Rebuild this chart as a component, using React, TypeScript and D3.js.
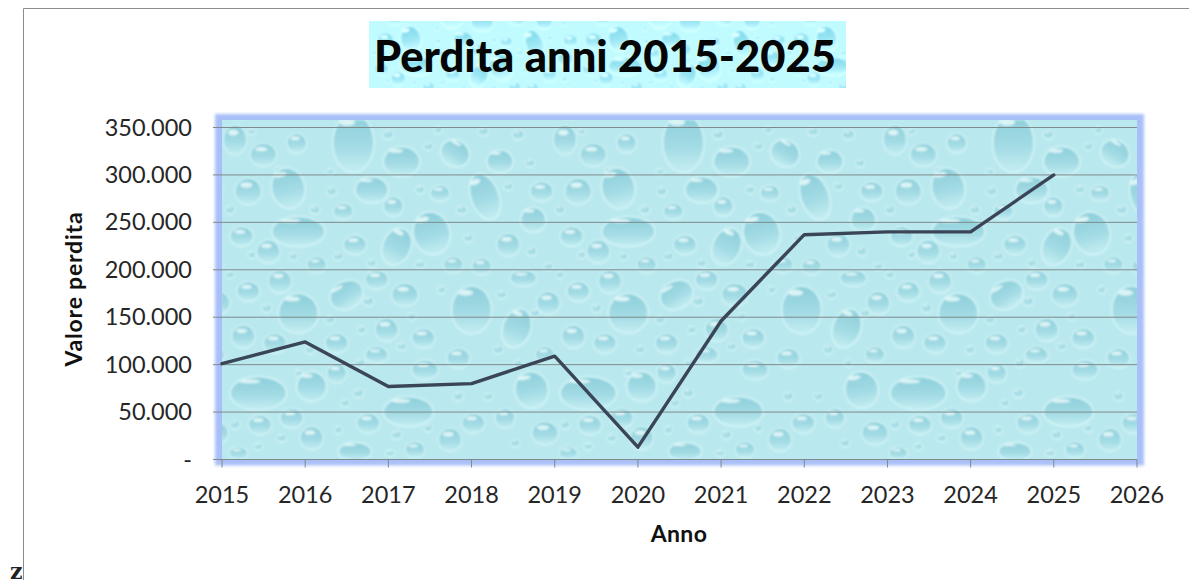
import React from "react";
import * as d3 from "d3";

const years = [2015, 2016, 2017, 2018, 2019, 2020, 2021, 2022, 2023, 2024, 2025];
const losses = [101000, 124000, 77000, 80000, 109000, 13000, 146000, 237000, 240000, 240000, 300000];
const yTicks = [0, 50000, 100000, 150000, 200000, 250000, 300000, 350000];
const xTicks = [2015, 2016, 2017, 2018, 2019, 2020, 2021, 2022, 2023, 2024, 2025, 2026];
const titleText = "Perdita anni 2015-2025";
const xLabel = "Anno";
const yLabel = "Valore perdita";

// Decorative water-drop wallpaper (drawn 3x, scaled down in the tile): [cx, cy, rx, ry, rotation]
const bigDrops = [
  [415, 100, 62, 88, 0], [560, 155, 55, 45, 0], [220, 235, 50, 62, -12], [470, 240, 50, 40, 0],
  [810, 260, 42, 72, -20], [250, 365, 80, 45, 0], [650, 370, 55, 65, -15], [545, 410, 42, 58, 25],
  [250, 610, 60, 60, 0], [395, 555, 52, 42, -30], [770, 600, 60, 72, 0], [905, 655, 42, 60, 20],
  [130, 850, 85, 50, 0], [290, 830, 45, 45, 0], [950, 840, 50, 55, -10], [580, 905, 75, 45, 0],
  [420, 1025, 50, 28, 0], [720, 130, 45, 40, 30], [855, 155, 40, 35, 0], [955, 330, 38, 38, 0],
];
const mediumDrops = [
  [60, 90, 35, 45], [145, 135, 40, 35], [245, 100, 30, 30], [100, 245, 40, 40], [385, 305, 30, 25],
  [535, 290, 30, 30], [675, 250, 30, 25], [980, 245, 35, 30], [80, 380, 35, 30], [160, 425, 35, 35],
  [420, 405, 35, 30], [305, 465, 30, 25], [715, 465, 30, 25], [800, 470, 30, 25], [880, 405, 35, 35],
  [195, 515, 35, 35], [100, 545, 35, 30], [485, 510, 35, 30], [570, 555, 40, 35], [925, 505, 40, 25],
  [1000, 580, 35, 35], [85, 680, 35, 35], [180, 700, 35, 30], [365, 700, 35, 30], [515, 660, 35, 35],
  [625, 685, 35, 30], [485, 735, 35, 25], [730, 745, 35, 30], [630, 780, 40, 30], [990, 735, 30, 25],
  [365, 790, 30, 30], [135, 945, 35, 30], [230, 925, 35, 30], [460, 940, 35, 30], [290, 985, 35, 35],
  [705, 990, 35, 35], [775, 940, 35, 30], [990, 970, 40, 35], [600, 1020, 30, 25], [870, 925, 30, 30],
  [70, 1030, 28, 20],
];
const smallDrops = [
  [110, 65, 12, 10], [195, 180, 15, 14], [345, 185, 12, 10], [520, 75, 16, 14], [640, 110, 14, 12],
  [670, 60, 12, 12], [805, 65, 16, 14], [910, 75, 18, 16], [945, 160, 14, 12], [350, 245, 15, 14],
  [300, 300, 15, 14], [615, 240, 14, 12], [740, 300, 16, 14], [880, 230, 14, 12], [45, 300, 14, 14],
  [110, 435, 12, 12], [235, 440, 13, 12], [370, 440, 15, 12], [470, 460, 14, 12], [615, 465, 15, 12],
  [760, 385, 14, 12], [950, 425, 15, 15], [1000, 470, 14, 12], [45, 495, 13, 12], [155, 595, 15, 14],
  [460, 575, 16, 14], [345, 630, 14, 12], [440, 660, 13, 12], [590, 620, 12, 12], [680, 540, 12, 12],
  [860, 555, 15, 12], [960, 610, 14, 12], [285, 720, 14, 12], [435, 760, 15, 14], [560, 710, 14, 12],
  [850, 720, 15, 13], [910, 760, 12, 12], [250, 790, 12, 10], [730, 860, 15, 14], [430, 850, 16, 14],
  [390, 880, 13, 12], [820, 860, 14, 12], [60, 945, 14, 14], [200, 985, 14, 12], [370, 960, 12, 12],
  [545, 975, 15, 14], [640, 955, 12, 12], [900, 1000, 14, 12], [130, 1010, 13, 11], [525, 1030, 14, 10],
];

const TILE_W = 990;
const TILE_H = 1020;
const PLOT = { left: 222, right: 1137, top: 127.5, bottom: 459.5, backTop: 120 };
const WIDTH = 1189;
const HEIGHT = 580;
const FONT = "Lato, 'Open Sans', sans-serif";
const TEXT = "#262626";

function Tile() {
  return (
    <>
      {[...smallDrops, ...mediumDrops].map(([cx, cy, rx, ry], i) => (
        <g key={i}>
          <ellipse cx={cx} cy={cy} rx={rx} ry={ry} fill="url(#dropFill)" stroke="#d3f5f8" strokeWidth={4} />
          <ellipse cx={cx - rx * 0.15} cy={cy - ry * 0.5} rx={rx * 0.45} ry={ry * 0.2} fill="#eefcfd" opacity={0.8} />
        </g>
      ))}
      {bigDrops.map(([cx, cy, rx, ry, rot], i) => (
        <g key={i} transform={`rotate(${rot} ${cx} ${cy})`}>
          <ellipse cx={cx} cy={cy} rx={rx} ry={ry} fill="url(#dropFill)" stroke="#d3f5f8" strokeWidth={5} />
          <ellipse cx={cx - rx * 0.3} cy={cy - ry * 0.72} rx={rx * 0.38} ry={ry * 0.12} fill="#eefcfd" opacity={0.8} />
        </g>
      ))}
    </>
  );
}

function Droplets({ id, transform }: { id: string; transform: string }) {
  const w = TILE_W / 3;
  const h = TILE_H / 3;
  return (
    <pattern id={id} width={w} height={h} patternUnits="userSpaceOnUse" patternTransform={transform}>
      <rect width={w} height={h} fill="#b9e8ee" />
      <g transform="scale(0.33333)">
        {[-TILE_W, 0, TILE_W].map((dx) => (
          <g key={dx} transform={`translate(${dx - 21},-30)`}>
            <Tile />
          </g>
        ))}
      </g>
    </pattern>
  );
}

export default function App() {
  const x = d3.scaleLinear().domain([2015, 2026]).range([PLOT.left, PLOT.right]);
  const y = d3.scaleLinear().domain([0, 350000]).range([PLOT.bottom, PLOT.top]);
  const line = d3
    .line<number>()
    .x((_, i) => x(years[i]))
    .y((d) => y(d));
  const fmt = (v: number) => (v === 0 ? "-" : d3.format(",")(v).replace(/,/g, "."));

  return (
    <svg
      width={WIDTH}
      height={HEIGHT}
      viewBox={`0 0 ${WIDTH} ${HEIGHT}`}
      style={{ position: "absolute", left: 0, top: 0, display: "block" }}
    >
      <defs>
        <linearGradient id="dropFill" x1="0" y1="0" x2="0" y2="1">
          <stop offset="0" stopColor="#8ccfdb" />
          <stop offset="0.55" stopColor="#a3dbe4" />
          <stop offset="1" stopColor="#c4eef2" />
        </linearGradient>
        <Droplets id="drops" transform={`translate(${PLOT.left},${PLOT.backTop})`} />
        <Droplets id="titleDrops" transform="translate(369,-4) scale(0.63)" />
        <filter id="glow" x="-5%" y="-5%" width="110%" height="110%">
          <feGaussianBlur stdDeviation="1.5" />
        </filter>
        <filter id="soft" x="-5%" y="-5%" width="110%" height="110%">
          <feGaussianBlur stdDeviation="0.8" />
        </filter>
        <filter id="titleSoft" x="-5%" y="-5%" width="110%" height="110%">
          <feGaussianBlur stdDeviation="1" />
          <feComponentTransfer>
            <feFuncR type="linear" slope="1.5" intercept="-0.2" />
            <feFuncG type="linear" slope="1.5" intercept="-0.25" />
            <feFuncB type="linear" slope="1.5" intercept="-0.25" />
          </feComponentTransfer>
        </filter>
        <clipPath id="plotClip">
          <rect x={PLOT.left} y={PLOT.backTop} width={PLOT.right - PLOT.left} height={PLOT.bottom - PLOT.backTop} />
        </clipPath>
        <clipPath id="titleClip">
          <rect x={369} y={21} width={477} height={67} />
        </clipPath>
      </defs>

      <rect width={WIDTH} height={HEIGHT} fill="#fff" />
      <path d={`M${WIDTH},8.5H23.5V${HEIGHT}`} fill="none" stroke="#8c8c8c" strokeWidth={1} />

      <g clipPath="url(#titleClip)">
        <rect x={365} y={17} width={485} height={75} fill="url(#titleDrops)" filter="url(#titleSoft)" />
      </g>
      <text x={605} y={72} textAnchor="middle" fontFamily={FONT} fontWeight={900} fontSize={43.5} fill="#050505">
        {titleText}
      </text>

      <rect
        x={PLOT.left - 7}
        y={PLOT.backTop - 6}
        width={PLOT.right - PLOT.left + 14}
        height={PLOT.bottom - PLOT.backTop + 12}
        fill="#a9bff8"
        filter="url(#glow)"
      />
      <g clipPath="url(#plotClip)">
        <rect
          x={PLOT.left - 4}
          y={PLOT.backTop - 4}
          width={PLOT.right - PLOT.left + 8}
          height={PLOT.bottom - PLOT.backTop + 8}
          fill="url(#drops)"
          filter="url(#soft)"
        />
      </g>

      {yTicks.map((t) => (
        <g key={t}>
          <line x1={PLOT.left - 9} x2={PLOT.right} y1={y(t)} y2={y(t)} stroke="#7f8a8c" strokeWidth={1} />
          <text x={192} y={y(t) + 8} textAnchor="end" fontFamily={FONT} fontSize={23.5} fill={TEXT}>
            {fmt(t)}
          </text>
        </g>
      ))}
      {xTicks.map((t) => (
        <g key={t}>
          <line x1={x(t)} x2={x(t)} y1={PLOT.bottom} y2={PLOT.bottom + 8} stroke="#7f8a8c" strokeWidth={1} />
          <text x={x(t)} y={PLOT.bottom + 43} textAnchor="middle" fontFamily={FONT} fontSize={23.5} fill={TEXT}>
            {t}
          </text>
        </g>
      ))}

      <path
        d={line(losses) ?? ""}
        fill="none"
        stroke="#3a4557"
        strokeWidth={3.4}
        strokeLinejoin="round"
        strokeLinecap="round"
      />

      <text x={679} y={542} textAnchor="middle" fontFamily={FONT} fontWeight={700} fontSize={23} letterSpacing={0.4} fill="#111">
        {xLabel}
      </text>
      <text
        transform="translate(82,289) rotate(-90)"
        textAnchor="middle"
        fontFamily={FONT}
        fontWeight={700}
        fontSize={23}
        letterSpacing={0.8}
        fill="#111"
      >
        {yLabel}
      </text>

      <text x={10} y={579} fontFamily="'DejaVu Serif', serif" fontSize={22} fontWeight={700} fill="#222">
        z
      </text>
    </svg>
  );
}
